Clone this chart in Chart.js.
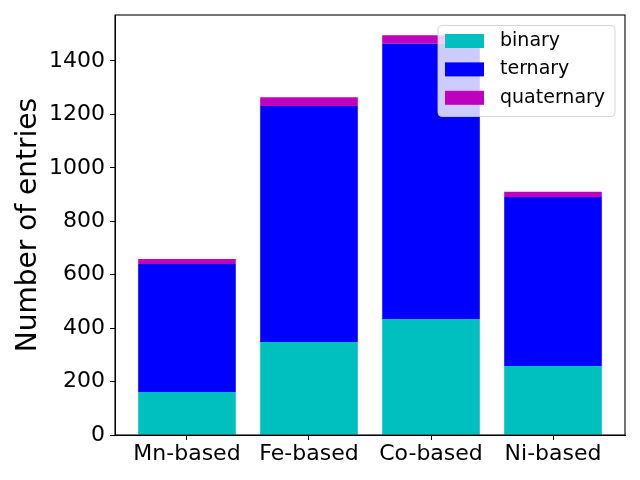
<!DOCTYPE html>
<html>
<head>
<meta charset="utf-8">
<script src="https://cdn.jsdelivr.net/npm/chart.js@4.4.0/dist/chart.umd.min.js"></script>
<style>
  body { margin: 0; background: #fff; }
  canvas { display: block; }
</style>
</head>
<body>
<canvas id="chart" width="640" height="480"></canvas>
<script>
const categories = ["Mn-based", "Fe-based", "Co-based", "Ni-based"];
const binary = [161, 348, 434, 258];
const ternary = [479, 883, 1030, 633];
const quaternary = [19, 33, 32, 19];
const yTicks = [0, 200, 400, 600, 800, 1000, 1200, 1400];

const FONT = "'DejaVu Sans', sans-serif";

const toPoints = arr => arr.map((v, i) => ({ x: i, y: v }));

// legend box inside the plot, upper right, like matplotlib
const legendBox = {
  id: "legendBox",
  afterDraw(chart) {
    const ctx = chart.ctx;
    const area = chart.chartArea;
    const w = 177, h = 91;
    const x = area.right - 10 - w;
    const y = area.top + 10.5;
    ctx.save();
    ctx.beginPath();
    ctx.roundRect(x, y, w, h, 4);
    ctx.fillStyle = "rgba(255,255,255,0.8)";
    ctx.fill();
    ctx.strokeStyle = "rgba(204,204,204,0.8)";
    ctx.lineWidth = 1;
    ctx.stroke();
    ctx.font = "19px " + FONT;
    ctx.textBaseline = "middle";
    ctx.textAlign = "left";
    chart.data.datasets.forEach((ds, i) => {
      const cy = y + 15.5 + i * 28.4;
      ctx.fillStyle = ds.backgroundColor;
      ctx.fillRect(x + 7, cy - 7, 39, 14);
      ctx.fillStyle = "#000";
      ctx.fillText(ds.label, x + 62, cy);
    });
    ctx.restore();
  }
};

// full frame around the plot
const frame = {
  id: "frame",
  afterDraw(chart) {
    const ctx = chart.ctx;
    const a = chart.chartArea;
    ctx.save();
    ctx.strokeStyle = "#000";
    ctx.lineWidth = 1.1;
    ctx.strokeRect(a.left, a.top, a.right - a.left, a.bottom - a.top);
    ctx.restore();
  }
};

new Chart(document.getElementById("chart"), {
  type: "bar",
  data: {
    datasets: [
      { label: "binary", data: toPoints(binary), backgroundColor: "#00bfbf" },
      { label: "ternary", data: toPoints(ternary), backgroundColor: "#0000ff" },
      { label: "quaternary", data: toPoints(quaternary), backgroundColor: "#bf00bf" }
    ]
  },
  options: {
    responsive: false,
    animation: false,
    devicePixelRatio: 1,
    categoryPercentage: 1.0,
    barPercentage: 0.8,
    layout: { padding: { top: 15, right: 15, left: 0, bottom: 0 } },
    plugins: {
      legend: { display: false },
      tooltip: { enabled: false }
    },
    scales: {
      x: {
        type: "linear",
        stacked: true,
        offset: false,
        min: -0.59,
        max: 3.59,
        afterBuildTicks: axis => { axis.ticks = categories.map((c, i) => ({ value: i })); },
        afterFit: axis => { axis.height = 45; axis.paddingLeft = 0; axis.paddingRight = 0; },
        ticks: {
          callback: v => categories[v],
          color: "#000",
          font: { family: FONT, size: 22 },
          padding: 1,
          maxRotation: 0,
          autoSkip: false
        },
        grid: { drawOnChartArea: false, drawTicks: true, tickLength: 5, color: "#000", offset: false },
        border: { display: true, color: "#000", width: 1 }
      },
      y: {
        stacked: true,
        min: 0,
        max: 1572,
        afterBuildTicks: axis => { axis.ticks = yTicks.map(v => ({ value: v })); },
        afterFit: axis => { axis.width = 115; axis.paddingTop = 0; axis.paddingBottom = 0; },
        ticks: {
          callback: v => String(v),
          color: "#000",
          font: { family: FONT, size: 22 },
          padding: 5
        },
        grid: { drawOnChartArea: false, drawTicks: true, tickLength: 5, color: "#000" },
        border: { display: true, color: "#000", width: 1 },
        title: {
          display: true,
          text: "Number of entries",
          color: "#000",
          font: { family: FONT, size: 28 },
          padding: { top: 12, bottom: 0 }
        }
      }
    }
  },
  plugins: [legendBox, frame]
});
</script>
</body>
</html>
